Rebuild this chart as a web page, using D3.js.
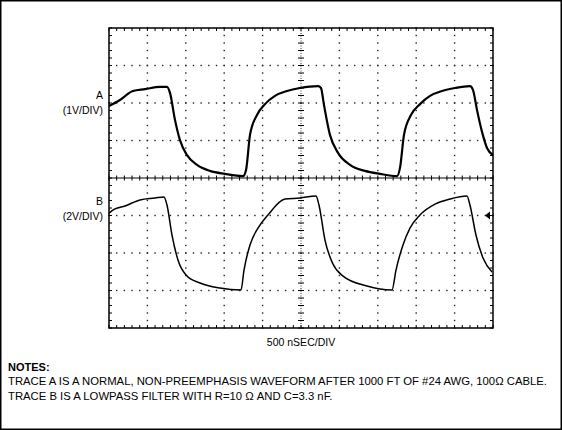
<!DOCTYPE html><html><head><meta charset="utf-8"><script src="https://cdn.jsdelivr.net/npm/d3@7"></script>
<style>body{margin:0;background:#fff}</style></head><body><svg id="c" width="562" height="430"></svg>
<script>
const timeA=[0,143,312,469,664,755,794,859,924,1016,1146,1315,1510,1745,1784,1836,1927,2031,2161,2318,2487,2721,2760,2799,2877,2982,3138,3333,3529,3750,3789,3841,3932,4049,4180,4336,4505,4700,4739,4792,4857,4922,5000];
const voltA=[1.92,2.08,2.32,2.37,2.43,2.43,2.27,1.55,1.01,0.61,0.35,0.19,0.11,0.05,0.21,1.15,1.68,1.97,2.19,2.32,2.40,2.45,2.40,1.95,1.15,0.67,0.35,0.19,0.11,0.05,0.27,1.15,1.68,1.97,2.19,2.32,2.40,2.45,2.35,1.81,1.23,0.80,0.61];
const timeB=[0,78,208,404,599,716,755,820,898,1003,1185,1445,1719,1758,1836,1940,2070,2292,2487,2695,2734,2812,2916,3047,3359,3685,3737,3828,3919,4049,4245,4440,4661,4700,4778,4870,4987];
const voltB=[-1.87,-1.65,-1.49,-1.17,-1.07,-1.01,-1.44,-3.04,-4.37,-5.17,-5.60,-5.87,-5.97,-4.91,-3.57,-2.67,-1.97,-1.12,-1.07,-0.96,-1.44,-3.31,-4.59,-5.23,-5.76,-5.97,-4.91,-3.57,-2.67,-1.97,-1.39,-1.12,-0.96,-1.44,-3.04,-4.27,-5.01];
const voltsPerDiv={A:1,B:2};
const labels={A:["A","(1V/DIV)"],B:["B","(2V/DIV)"]};
const xLabel="500 nSEC/DIV";
const notes=["TRACE A IS A NORMAL, NON-PREEMPHASIS WAVEFORM AFTER 1000 FT OF #24 AWG, 100\u03A9 CABLE.","TRACE B IS A LOWPASS FILTER WITH R=10  \u03A9 AND C=3.3 nF."];
const svg=d3.select("#c");
svg.append("rect").attr("x",0.75).attr("y",0.75).attr("width",560.5).attr("height",428.5).attr("fill","none").attr("stroke","#000").attr("stroke-width",1.5);
const L=109,R=493,T=28,B=328;
const x=d3.scaleLinear().domain([0,5000]).range([L,R]);
const y=d3.scaleLinear().domain([-4,4]).range([B,T]);
const g=svg.append("g");
const minor=d3.range(0,5000.1,100), minorY=d3.range(-4,4.01,0.2);
for(let d=1;d<10;d++){ if(d===5)continue; g.selectAll(null).data(minorY).enter().append("rect").attr("x",x(d*500)-0.7).attr("y",v=>y(v)-0.7).attr("width",1.4).attr("height",1.4).attr("fill","#222");}
for(let v=-3;v<=3;v++){ if(v===0)continue; g.selectAll(null).data(minor).enter().append("rect").attr("x",t=>x(t)-0.7).attr("y",y(v)-0.7).attr("width",1.4).attr("height",1.4).attr("fill","#222");}
g.append("rect").attr("x",L).attr("y",T).attr("width",R-L).attr("height",B-T).attr("fill","none").attr("stroke","#000").attr("stroke-width",1.5);
g.append("line").attr("x1",L).attr("x2",R).attr("y1",y(0)).attr("y2",y(0)).attr("stroke","#000").attr("stroke-width",1.2);
g.append("line").attr("x1",x(2500)).attr("x2",x(2500)).attr("y1",T).attr("y2",B).attr("stroke","#000").attr("stroke-width",0.8).attr("stroke-dasharray","1,1.5");
const tk=(x1,y1,x2,y2)=>g.append("line").attr("x1",x1).attr("y1",y1).attr("x2",x2).attr("y2",y2).attr("stroke","#000").attr("stroke-width",1);
minor.forEach(t=>{tk(x(t),y(0)-2.5,x(t),y(0)+2.5);tk(x(t),T,x(t),T+3);tk(x(t),B,x(t),B-3);});
minorY.forEach(v=>{tk(x(2500)-3,y(v),x(2500)+3,y(v));tk(L,y(v),L+3,y(v));tk(R,y(v),R-3,y(v));});
const line=d3.line().x(d=>x(d[0])).y(d=>y(d[1])).curve(d3.curveMonotoneX);
g.append("path").attr("d",line(timeA.map((t,i)=>[t,voltA[i]/voltsPerDiv.A]))).attr("fill","none").attr("stroke","#000").attr("stroke-width",2.2).attr("stroke-linejoin","round");
g.append("path").attr("d",line(timeB.map((t,i)=>[t,voltB[i]/voltsPerDiv.B]))).attr("fill","none").attr("stroke","#000").attr("stroke-width",1.5).attr("stroke-linejoin","round");
svg.append("path").attr("d",`M${R-8},${y(-1)} l5,-4 l0,8 z`).attr("fill","#000");
const font="Liberation Sans, Arial, sans-serif";
const txt=(s,xx,yy,anchor,w,fs)=>svg.append("text").attr("x",xx).attr("y",yy).attr("text-anchor",anchor||"start").attr("font-family",font).attr("font-size",fs||10.5).attr("font-weight",w||"normal").text(s);
txt(labels.A[0],103,y(2.1),"end");txt(labels.A[1],103,y(1.7),"end");
txt(labels.B[0],103,y(-0.72),"end");txt(labels.B[1],103,y(-1.12),"end");
txt(xLabel,x(2500),346,"middle");
txt("NOTES:",8,371,"start","bold",11);
txt(notes[0],8,385,"start","normal",11.3);txt(notes[1],8,400,"start","normal",11.3);
</script></body></html>
